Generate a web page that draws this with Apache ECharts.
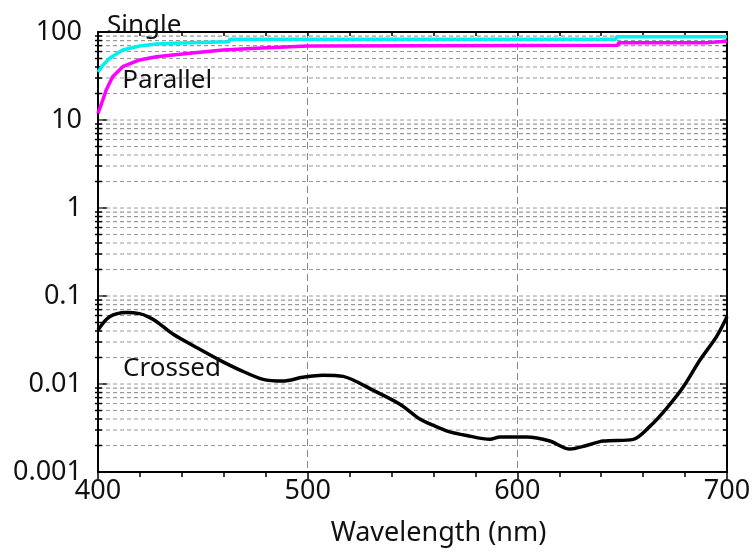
<!DOCTYPE html>
<html>
<head>
<meta charset="utf-8">
<script src="https://cdn.jsdelivr.net/npm/echarts@6/dist/echarts.min.js"></script>
<style>
html,body{margin:0;padding:0;background:#fff;}
#chart{width:752px;height:552px;}
</style>
</head>
<body>
<div id="chart"></div>
<script>
// ---- data ----
const xMin = 400, xMax = 700;
const yMin = 0.001, yMax = 100;
const yTickLabels = ['0.001', '0.01', '0.1', '1', '10', '100'];

const singleWl = [400, 402, 405.5, 411.8, 419.8, 427.8, 443.7, 462.5, 462.8, 647, 647.3, 700];
const singleT  = [35, 41, 50.2, 62.4, 69.3, 73.1, 75.6, 77.6, 82.6, 82.6, 88.4, 88.4];

const parallelWl = [400, 402.3, 403.9, 407, 411.8, 419.8, 427.8, 443.7, 459.6, 475.5, 500, 648, 648.3, 690, 690.3, 700];
const parallelT  = [11.9, 16.9, 21.9, 31, 40.3, 48.1, 52.4, 57.3, 62.4, 65.2, 69.5, 70.5, 75.6, 75.6, 78.4, 78.4];

const crossedWl = [400, 405.5, 413.5, 419.8, 424, 428, 435.7, 447, 458, 467.5, 478.7, 488.2, 497.6, 507.2, 516.9, 531.2, 544, 553.5, 559.8, 567, 575.8, 586.9, 591.7, 604.4, 615.5, 625, 633, 641, 655.3, 663.2, 671.2, 679.2, 687.1, 695, 700];
const crossedT  = [0.041, 0.058, 0.065, 0.063, 0.058, 0.051, 0.037, 0.026, 0.0187, 0.0145, 0.0113, 0.0108, 0.0119, 0.0126, 0.0122, 0.0085, 0.0059, 0.0040, 0.0034, 0.0029, 0.0026, 0.00235, 0.0025, 0.0025, 0.00225, 0.00182, 0.0020, 0.00225, 0.00235, 0.0033, 0.0053, 0.0093, 0.0187, 0.0345, 0.058];

const seriesLabels = [
  { text: 'Single', wl: 422, t: 117 },
  { text: 'Parallel', wl: 433, t: 27.7 },
  { text: 'Crossed', wl: 435.3, t: 0.0148 }
];

const gridDecades = [0.001, 0.01, 0.1, 1, 10];
const gridMultipliers = [1, 2, 3, 4, 5, 6, 7, 8, 9];

// ---- build ----
const zip = (a, b) => a.map((v, i) => [v, b[i]]);
const gridValues = [];
gridDecades.forEach(d => gridMultipliers.forEach(m => {
  const v = +(d * m).toPrecision(3);
  if (v > yMin) gridValues.push(v);
}));

const FONT = 'Noto Sans';

const chart = echarts.init(document.getElementById('chart'), null, { renderer: 'canvas' });
chart.setOption({
  animation: false,
  backgroundColor: '#fff',
  grid: { left: 98, right: 25, top: 32, bottom: 80, containLabel: false, outerBoundsMode: 'none' },
  xAxis: [
    {
      type: 'value', position: 'bottom', min: xMin, max: xMax, interval: 100,
      axisLine: { show: true, onZero: false, lineStyle: { color: '#000', width: 2 } },
      axisTick: { show: true, inside: false, length: 7, lineStyle: { color: '#000', width: 1.5 } },
      minorTick: { show: true, splitNumber: 5, length: 5, lineStyle: { color: '#000', width: 1.5 } },
      axisLabel: { fontSize: 27, fontFamily: FONT, color: '#111', margin: 6 },
      splitLine: { show: true, lineStyle: { color: '#888', width: 1, type: [7, 4] } },
      name: 'Wavelength (nm)', nameLocation: 'middle', nameGap: 48,
      nameTextStyle: { fontSize: 27, fontFamily: FONT, color: '#111', padding: [0, 0, 0, 52] }
    },
    {
      type: 'value', position: 'top', min: xMin, max: xMax, interval: 100,
      axisLine: { show: true, onZero: false, lineStyle: { color: '#000', width: 2 } },
      axisTick: { show: true, inside: true, length: 4, lineStyle: { color: '#000', width: 1.5 } },
      minorTick: { show: true, splitNumber: 5, length: 4, lineStyle: { color: '#000', width: 1.5 } },
      axisLabel: { show: false },
      splitLine: { show: false }
    }
  ],
  yAxis: [
    {
      type: 'log', logBase: 10, position: 'left', min: yMin, max: yMax, interval: 1,
      axisLine: { show: true, onZero: false, lineStyle: { color: '#000', width: 2 } },
      axisTick: { show: true, inside: true, length: 9, lineStyle: { color: '#000', width: 1.5 } },
      axisLabel: {
        fontSize: 27, fontFamily: FONT, color: '#111', margin: 16, padding: [0, 0, 10, 0],
        formatter: v => yTickLabels[Math.round(Math.log10(v)) + 3]
      },
      splitLine: { show: false },
      name: 'Transmission (%)', nameLocation: 'middle', nameGap: 58,
      nameTextStyle: { fontSize: 27, fontFamily: FONT, color: '#111', padding: [0, 0, 0, 34] }
    },
    {
      type: 'log', logBase: 10, position: 'right', min: yMin, max: yMax, interval: 1,
      axisLine: { show: true, onZero: false, lineStyle: { color: '#000', width: 2 } },
      axisTick: { show: true, inside: true, length: 7, lineStyle: { color: '#000', width: 1.5 } },
      axisLabel: { show: false },
      splitLine: { show: false }
    }
  ],
  series: [
    {
      type: 'custom', coordinateSystem: 'cartesian2d', xAxisIndex: 0, yAxisIndex: 0,
      silent: true, z: 1, clip: false,
      data: gridValues.map(v => [xMin, v]),
      encode: { x: 0, y: 1 },
      renderItem: (params, api) => {
        const v = api.value(1);
        const p0 = api.coord([xMin, v]);
        const p1 = api.coord([xMax, v]);
        const isDecade = Math.abs(Math.log10(v) - Math.round(Math.log10(v))) < 1e-6;
        const children = [{
          type: 'line',
          shape: { x1: p0[0] + 1, y1: p0[1], x2: p1[0] - 1, y2: p1[1] },
          style: { stroke: '#999', lineWidth: 1.2, lineDash: [4, 3] }
        }];
        if (!isDecade) {
          children.push({ type: 'line', shape: { x1: p0[0] - 3, y1: p0[1], x2: p0[0] + 4, y2: p0[1] }, style: { stroke: '#000', lineWidth: 1.5 } });
          children.push({ type: 'line', shape: { x1: p1[0] - 4, y1: p1[1], x2: p1[0] + 1, y2: p1[1] }, style: { stroke: '#000', lineWidth: 1.5 } });
        }
        return { type: 'group', children };
      }
    },
    {
      name: 'Single', type: 'line', xAxisIndex: 0, yAxisIndex: 0, z: 3,
      data: zip(singleWl, singleT), showSymbol: false, symbol: 'none',
      lineStyle: { color: '#00f0f0', width: 3.5 }
    },
    {
      name: 'Parallel', type: 'line', xAxisIndex: 0, yAxisIndex: 0, z: 3,
      data: zip(parallelWl, parallelT), showSymbol: false, symbol: 'none',
      lineStyle: { color: '#ff00ff', width: 3.5 }
    },
    {
      name: 'Crossed', type: 'line', xAxisIndex: 0, yAxisIndex: 0, z: 3,
      data: zip(crossedWl, crossedT), showSymbol: false, symbol: 'none', smooth: 0.3,
      lineStyle: { color: '#000', width: 3.5 }
    }
  ]
});

// series name labels placed through the chart's own scales
chart.setOption({
  graphic: seriesLabels.map(l => {
    const p = chart.convertToPixel({ gridIndex: 0 }, [l.wl, l.t]);
    return {
      type: 'text', x: p[0], y: p[1], z: 10, silent: true,
      style: { text: l.text, fill: '#111', fontSize: 26, fontFamily: FONT, align: 'center', verticalAlign: 'middle' }
    };
  })
});
</script>
</body>
</html>
